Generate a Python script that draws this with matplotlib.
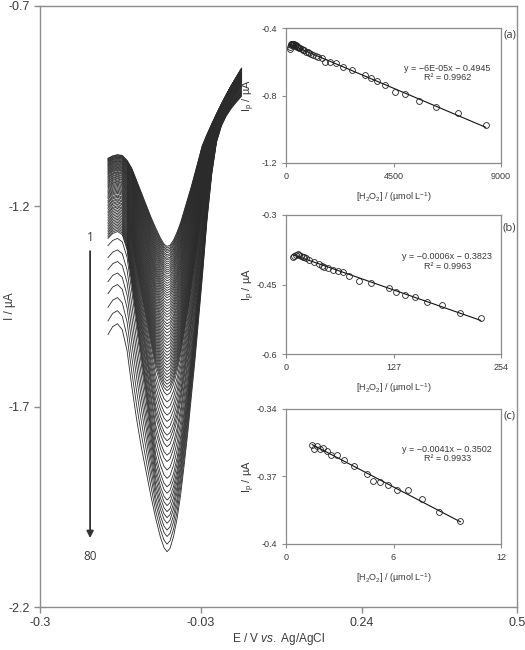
import numpy as np
import matplotlib
matplotlib.use("Agg")
import matplotlib.pyplot as plt

plt.rcParams['font.family'] = ['Liberation Sans', 'DejaVu Sans']
plt.rcParams['axes.unicode_minus'] = False
plt.rcParams['mathtext.fontset'] = 'custom'
plt.rcParams['mathtext.rm'] = 'Liberation Sans'
plt.rcParams['mathtext.it'] = 'Liberation Sans:italic'

TXT = '#3a3a3a'
SPINE = '#8c8c8c'

# ---- main voltammograms: potential grid and the two outer curves
E = [-0.186, -0.178, -0.170, -0.162, -0.154, -0.146, -0.138, -0.130, -0.122, -0.114,
     -0.106, -0.098, -0.092, -0.087, -0.082, -0.076, -0.070, -0.064, -0.058, -0.052,
     -0.046, -0.040, -0.034, -0.028, -0.020, -0.012, -0.004, 0.004, 0.012, 0.020, 0.028,
     0.038]
I_first = [-1.080, -1.074, -1.071, -1.073, -1.085, -1.105, -1.135, -1.165, -1.195, -1.225,
           -1.252, -1.277, -1.292, -1.298, -1.295, -1.282, -1.262, -1.238, -1.208, -1.178,
           -1.148, -1.115, -1.082, -1.048, -1.020, -0.994, -0.969, -0.945, -0.922, -0.900,
           -0.880, -0.855]
I_last = [-1.520, -1.500, -1.493, -1.508, -1.560, -1.650, -1.730, -1.800, -1.860, -1.920,
          -1.975, -2.022, -2.048, -2.058, -2.050, -2.020, -1.975, -1.915, -1.840, -1.760,
          -1.670, -1.580, -1.480, -1.380, -1.235, -1.120, -1.040, -1.000, -0.975, -0.957,
          -0.942, -0.925]

# starting current (left end) of each of the 80 scans
I_start = [-1.080, -1.081, -1.083, -1.084, -1.086, -1.087, -1.089, -1.090, -1.092, -1.094,
           -1.096, -1.097, -1.099, -1.101, -1.103, -1.105, -1.107, -1.109, -1.111, -1.113,
           -1.115, -1.117, -1.119, -1.121, -1.124, -1.126, -1.128, -1.131, -1.133, -1.136,
           -1.138, -1.141, -1.143, -1.146, -1.149, -1.151, -1.154, -1.157, -1.160, -1.163,
           -1.166, -1.169, -1.172, -1.175, -1.178, -1.181, -1.185, -1.188, -1.191, -1.195,
           -1.198, -1.202, -1.205, -1.209, -1.213, -1.216, -1.220, -1.224, -1.228, -1.232,
           -1.236, -1.240, -1.244, -1.248, -1.252, -1.256, -1.260, -1.264, -1.268, -1.272,
           -1.276, -1.280, -1.298, -1.328, -1.358, -1.388, -1.418, -1.452, -1.486, -1.520]
# peak (minimum) current of each of the 80 scans
I_peak = [-1.300, -1.304, -1.308, -1.312, -1.316, -1.321, -1.325, -1.330, -1.334, -1.339,
          -1.344, -1.349, -1.354, -1.359, -1.364, -1.369, -1.375, -1.380, -1.386, -1.392,
          -1.398, -1.404, -1.410, -1.416, -1.422, -1.428, -1.435, -1.442, -1.449, -1.456,
          -1.463, -1.470, -1.477, -1.485, -1.493, -1.500, -1.508, -1.516, -1.524, -1.532,
          -1.540, -1.548, -1.556, -1.564, -1.572, -1.580, -1.588, -1.596, -1.604, -1.612,
          -1.620, -1.628, -1.636, -1.644, -1.652, -1.660, -1.671, -1.688, -1.704, -1.721,
          -1.737, -1.754, -1.771, -1.785, -1.800, -1.821, -1.837, -1.858, -1.879, -1.900,
          -1.916, -1.933, -1.947, -1.962, -1.977, -1.991, -2.008, -2.024, -2.043, -2.062]

# ---- inset data
conc_a = [150, 180, 200, 220, 240, 260, 280, 300, 330, 360, 390, 420, 450, 480, 520, 560,
          600, 650, 700, 760, 830, 900, 980, 1060, 1150, 1250, 1350, 1500, 1650, 1850, 2090,
          2370, 2750, 3320, 3540, 3820, 4160, 4560, 4980, 5570, 6280, 7180, 8360]
ip_a = [-0.525, -0.510, -0.498, -0.494, -0.493, -0.496, -0.495, -0.499, -0.497, -0.502,
        -0.505, -0.503, -0.508, -0.511, -0.514, -0.516, -0.520, -0.522, -0.528, -0.531,
        -0.540, -0.545, -0.550, -0.556, -0.562, -0.566, -0.572, -0.580, -0.600, -0.604,
        -0.607, -0.629, -0.647, -0.681, -0.694, -0.714, -0.740, -0.777, -0.793, -0.835,
        -0.868, -0.904, -0.975]

conc_b = [7.9, 9.8, 11.8, 13.8, 15.8, 17.7, 19.7, 21.7, 24.0, 27.6, 32.7, 39.4, 42.0, 45.3,
          49.2, 55.0, 61.0, 67.0, 75.0, 86.0, 101.0, 122.0, 130.0, 141.0, 152.0, 167.0,
          184.0, 205.0, 230.0]
ip_b = [-0.390, -0.388, -0.386, -0.385, -0.386, -0.388, -0.390, -0.391, -0.393, -0.398,
        -0.402, -0.405, -0.409, -0.412, -0.415, -0.418, -0.421, -0.424, -0.431, -0.442,
        -0.447, -0.458, -0.467, -0.472, -0.476, -0.487, -0.495, -0.512, -0.523]

conc_c = [1.46, 1.59, 1.74, 1.88, 2.07, 2.27, 2.49, 2.86, 3.23, 3.78, 4.52, 4.85, 5.22, 5.67,
          6.18, 6.79, 7.59, 8.53, 9.73]
ip_c = [-0.3558, -0.3578, -0.3563, -0.3578, -0.3574, -0.3585, -0.3605, -0.3605, -0.3626,
        -0.3654, -0.3687, -0.3719, -0.3723, -0.3737, -0.3759, -0.3762, -0.3800, -0.3860,
        -0.3900]

fig = plt.figure(figsize=(5.25, 6.5), dpi=100)
ax = fig.add_axes([40 / 525, 1 - 607 / 650, 477 / 525, 601 / 650])

E = np.array(E)
top = np.array(I_first)
bot = np.array(I_last)
for s, p in zip(I_start, I_peak):
    # blend weight: fixed by the start current on the left, by the peak current further on
    tl = (s - I_first[0]) / (I_last[0] - I_first[0])
    tp = (p - top.min()) / (bot.min() - top.min())
    w = np.interp(E, [E[0], -0.156, -0.105, E[-1]], [tl, tl, tp, tp])
    ax.plot(E, top + w * (bot - top), color='#2b2b2b', lw=0.6)

ax.set_xlim(-0.3, 0.5)
ax.set_ylim(-2.2, -0.7)
ax.set_xticks([-0.3, -0.03, 0.24, 0.5])
ax.set_xticklabels(['-0.3', '-0.03', '0.24', '0.5'])
ax.set_yticks([-2.2, -1.7, -1.2, -0.7])
ax.set_yticklabels(['-2.2', '-1.7', '-1.2', '-0.7'])
ax.tick_params(labelsize=9, colors=TXT, color=SPINE, length=4, width=1, direction='out')
for sp in ax.spines.values():
    sp.set_color(SPINE)
    sp.set_linewidth(1.0)
ax.set_xlabel(r'E / V $\it{vs.}$ Ag/AgCl', fontsize=8.5, color=TXT, labelpad=1)
ax.set_ylabel('I / µA', fontsize=8.5, color=TXT)
ax.yaxis.set_label_coords(-0.05, 0.5)

ax.annotate('', xy=(-0.216, -2.035), xytext=(-0.216, -1.305),
            arrowprops=dict(arrowstyle='-|>', color='#333333', lw=1.3, mutation_scale=10))
ax.text(-0.216, -1.278, '1', ha='center', va='center', fontsize=8.5, color=TXT,
        family='Open Sans')
ax.text(-0.216, -2.075, '80', ha='center', va='center', fontsize=8.5, color=TXT,
        family='Open Sans')

insets = [
    ([286 / 525, 1 - 163 / 650, 215 / 525, 135 / 650], conc_a, ip_a, (0, 9000), [0, 4500, 9000],
     (-1.2, -0.4), [-1.2, -0.8, -0.4], ['-1.2', '-0.8', '-0.4'],
     'y = \u22126E-05x \u2212 0.4945', 'R\u00b2 = 0.9962', '(a)', 0.95),
    ([286 / 525, 1 - 354 / 650, 215 / 525, 139 / 650], conc_b, ip_b, (0, 254), [0, 127, 254],
     (-0.6, -0.3), [-0.6, -0.45, -0.3], ['-0.6', '-0.45', '-0.3'],
     'y = \u22120.0006x \u2212 0.3823', 'R\u00b2 = 0.9963', '(b)', 0.91),
    ([286 / 525, 1 - 544 / 650, 215 / 525, 135 / 650], conc_c, ip_c, (0, 12), [0, 6, 12],
     (-0.4, -0.34), [-0.4, -0.37, -0.34], ['-0.4', '-0.37', '-0.34'],
     'y = \u22120.0041x \u2212 0.3502', 'R\u00b2 = 0.9933', '(c)', 0.95),
]

for rect, cx, cy, xl, xt, yl, yt, ytl, eq, r2, tag, tagy in insets:
    a = fig.add_axes(rect)
    k, b0 = np.polyfit(cx, cy, 1)
    xs = np.array([min(cx), max(cx)])
    a.plot(xs, k * xs + b0, color='#111111', lw=0.8)
    a.plot(cx, cy, 'o', mfc='none', mec='#222222', mew=0.6, ms=4.2)
    a.set_xlim(*xl)
    a.set_ylim(*yl)
    a.set_xticks(xt)
    a.set_xticklabels([str(v) for v in xt])
    a.set_yticks(yt)
    a.set_yticklabels(ytl)
    a.tick_params(labelsize=6.5, colors=TXT, color=SPINE, length=3, width=0.8, direction='out')
    for sp in a.spines.values():
        sp.set_color(SPINE)
        sp.set_linewidth(0.9)
    a.set_xlabel(r'[H$_2$O$_2$] / (µmol L$^{\mathdefault{-1}}$)', fontsize=6.5, color=TXT, labelpad=7)
    a.set_ylabel(r'I$_{\mathdefault{p}}$ / µA', fontsize=8, color=TXT)
    a.yaxis.set_label_coords(-0.135, 0.5)
    a.text(0.75, 0.70, eq, transform=a.transAxes, ha='center', va='center', fontsize=6.5, color=TXT)
    a.text(0.75, 0.63, r2, transform=a.transAxes, ha='center', va='center', fontsize=6.5, color=TXT)
    a.text(1.04, tagy, tag, transform=a.transAxes, ha='center', va='center', fontsize=8,
           color=TXT, family='Open Sans')

fig.savefig('out.png', dpi=100)
